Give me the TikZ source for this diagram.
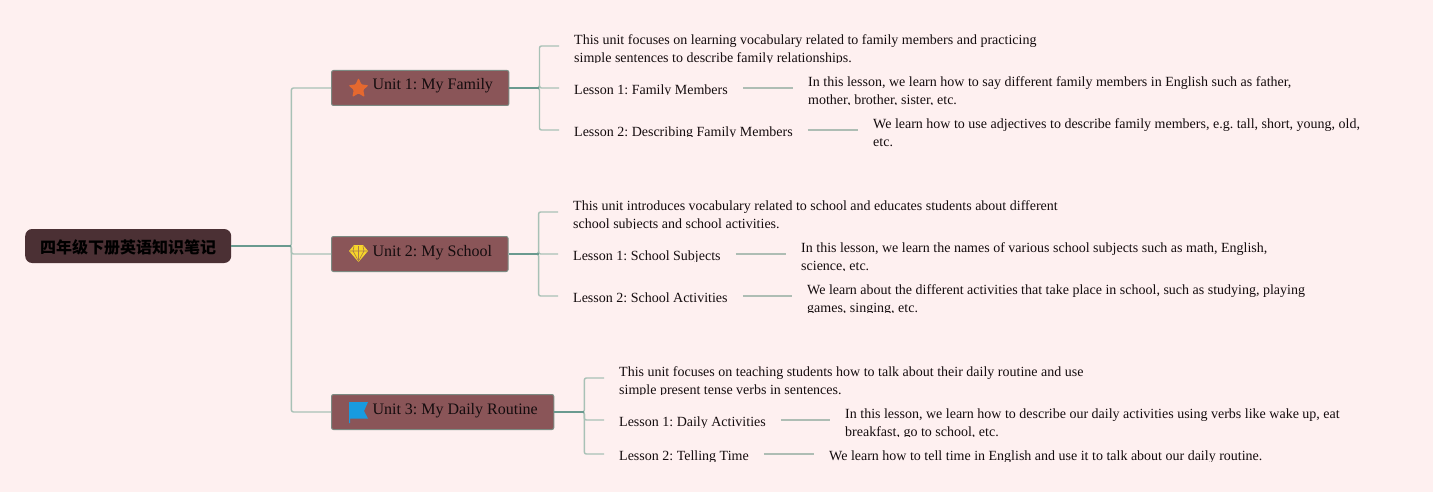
\documentclass[tikz,border=0pt]{standalone}
\usepackage{fontspec}
\setmainfont{Liberation Serif}
\newfontfamily\cjk{Noto Sans CJK SC}
\usetikzlibrary{shapes.geometric}
\frenchspacing
\definecolor{pagebg}{HTML}{FEF0F0}
\definecolor{rootfill}{HTML}{4B3034}
\definecolor{unitfill}{HTML}{8A5558}
\definecolor{unitline}{HTML}{7C8A82}
\definecolor{linklight}{HTML}{A8C1B6}
\definecolor{linkdark}{HTML}{6A9A8F}
\definecolor{twigcol}{HTML}{AEBDB4}
\definecolor{inkcol}{HTML}{140C0E}
\definecolor{starcol}{HTML}{E5682F}
\definecolor{gemcol}{HTML}{F6D52B}
\definecolor{flagcol}{HTML}{189BE0}
% style, name, x, y, bottom of the clip, text
\newcommand{\cliptext}[6]{%
  \begin{scope}
    \clip (#3,#4-30) rectangle (#3+900,#5);
    \node[#1] (#2) at (#3,#4) {\strut #6\strut};
  \end{scope}}
\begin{document}
\begin{tikzpicture}[x=1pt, y=-1pt,
  rootbox/.style={draw=none, fill=rootfill, rounded corners=7pt, minimum width=206pt, minimum height=34pt, inner sep=0pt, font=\cjk\bfseries\fontsize{16}{20}\selectfont, text=black, anchor=west},
  unitbox/.style={draw=unitline, line width=1pt, fill=unitfill, rounded corners=2pt, minimum height=35pt, inner xsep=16pt, inner ysep=0pt, font=\fontsize{16}{20}\selectfont, text=inkcol, anchor=west},
  textbox/.style={inner xsep=15pt, inner ysep=0pt, anchor=west, align=left, text=inkcol, font=\fontsize{14}{18}\selectfont},
  link/.style={draw=linklight, line width=1.4pt, rounded corners=2pt},
  thicklink/.style={draw=linkdark, line width=1.8pt},
  twig/.style={draw=twigcol, line width=1.5pt}]
  \fill[pagebg] (0,0) rectangle (1433,492);
  \useasboundingbox (0,0) rectangle (1433,492);

  \node[rootbox] (root) at (25,246) {\raisebox{-7pt}[0pt][0pt]{四年级下册英语知识笔记}};
  \node[unitbox] (unita) at (331,88) {\hspace*{25pt}\raisebox{-2pt}[0pt][0pt]{Unit 1: My Family}};
  \node[unitbox] (unitb) at (331,254) {\hspace*{25pt}\raisebox{-2pt}[0pt][0pt]{Unit 2: My School}};
  \node[unitbox] (unitc) at (331,412) {\hspace*{25pt}\raisebox{-2pt}[0pt][0pt]{Unit 3: My Daily Routine}};

  % icons
  \node[star, star points=5, star point ratio=2.1, fill=starcol, inner sep=0pt, minimum size=21pt, rounded corners=1pt] (stara) at (358.5,88.5) {};
  \fill[gemcol] (354,245) -- (363,245) -- (368,251) -- (358.5,262) -- (349,251) -- cycle;
  \draw[unitfill!70!gemcol, line width=.6pt] (349.5,251) -- (367.5,251) (354,246) -- (353,251) -- (358.5,261) -- (364,251) -- (363,246) (358.5,246) -- (358.5,260);
  \fill[flagcol] (349,402) -- (368,402) -- (364,411) -- (368,418.5) -- (350,418.5) -- (350,423) -- (349,423) -- cycle;

  \cliptext{textbox}{infoa}{559}{50.4}{62.5}{This unit focuses on learning vocabulary related to family members and practicing\\simple sentences to describe family relationships.}
  \cliptext{textbox}{lessaa}{559}{91.4}{95}{Lesson 1: Family Members}
  \cliptext{textbox}{lessab}{559}{133.4}{137}{Lesson 2: Describing Family Members}
  \cliptext{textbox}{noteaa}{793}{92.4}{105}{In this lesson, we learn how to say different family members in English such as father,\\mother, brother, sister, etc.}
  \cliptext{textbox}{noteab}{858}{134.4}{148}{We learn how to use adjectives to describe family members, e.g. tall, short, young, old,\\etc.}

  \cliptext{textbox}{infob}{558}{215.4}{228.5}{This unit introduces vocabulary related to school and educates students about different\\school subjects and school activities.}
  \cliptext{textbox}{lessba}{558}{256.4}{261}{Lesson 1: School Subjects}
  \cliptext{textbox}{lessbb}{558}{298.4}{304}{Lesson 2: School Activities}
  \cliptext{textbox}{noteba}{786}{257.4}{270.5}{In this lesson, we learn the names of various school subjects such as math, English,\\science, etc.}
  \cliptext{textbox}{notebb}{792}{299.4}{312.5}{We learn about the different activities that take place in school, such as studying, playing\\games, singing, etc.}

  \cliptext{textbox}{infoc}{604}{381.4}{394.5}{This unit focuses on teaching students how to talk about their daily routine and use\\simple present tense verbs in sentences.}
  \cliptext{textbox}{lessca}{604}{422.4}{427}{Lesson 1: Daily Activities}
  \cliptext{textbox}{lesscb}{604}{456.4}{461}{Lesson 2: Telling Time}
  \cliptext{textbox}{noteca}{830}{423.4}{436}{In this lesson, we learn how to describe our daily activities using verbs like wake up, eat\\breakfast, go to school, etc.}
  \cliptext{textbox}{notecb}{814}{456.4}{461}{We learn how to tell time in English and use it to talk about our daily routine.}

  \foreach \u in {unita,unitb,unitc}
    \draw[link] (root.east) -- ++(60,0) |- (\u.west);
  \draw[thicklink] (root.east) -- ++(60,0);

  \foreach \u/\i/\a/\b/\d in {unita/infoa/lessaa/lessab/3.4,unitb/infob/lessba/lessbb/2.4,unitc/infoc/lessca/lesscb/2.4}{
    \draw[link] (\u.east) -- ++(30,0) |- ([yshift=\d pt+1pt]\i.west);
    \draw[link] (\u.east) -- ++(30,0) |- ([yshift=\d pt]\a.west);
    \draw[link] (\u.east) -- ++(30,0) |- ([yshift=\d pt]\b.west);
    \draw[thicklink] (\u.east) -- ++(30,0);
  }

  \foreach \a/\b/\d in {lessaa/noteaa/3.4,lessab/noteab/3.4,lessba/noteba/2.4,lessbb/notebb/2.4,lessca/noteca/2.4,lesscb/notecb/2.4}
    \draw[twig] ([yshift=\d pt]\a.east) -- ([yshift=\d pt]\a.east -| \b.west);
\end{tikzpicture}
\end{document}
